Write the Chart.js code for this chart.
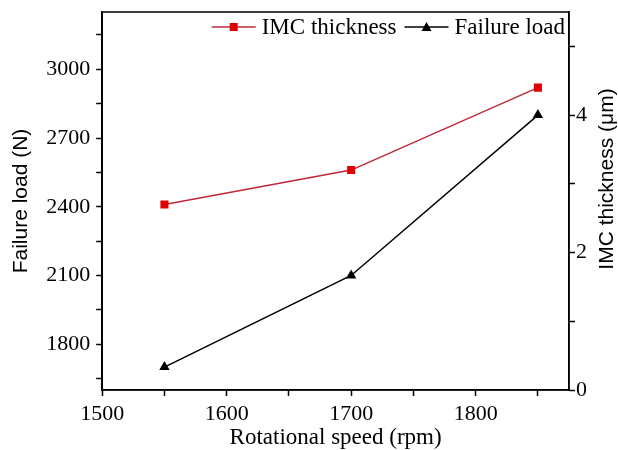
<!DOCTYPE html>
<html>
<head>
<meta charset="utf-8">
<script src="https://cdn.jsdelivr.net/npm/chart.js@4.4.0/dist/chart.umd.min.js"></script>
<style>
  html, body { margin: 0; padding: 0; background: #fff; }
  #wrap { width: 618px; height: 450px; }
</style>
</head>
<body>
<div id="wrap"><canvas id="chart"></canvas></div>
<script>
// values
const speeds = [1550, 1700, 1850];
const imcThickness = [2.7, 3.2, 4.4];
const failureLoad = [1700, 2100, 2800];

const SERIF = 'Liberation Serif';
const SANS = 'Liberation Sans';
const RED = '#e00000';
const RED_LINE = '#c0283a';

function drawMarker(g, shape, cx, cy, color) {
    g.fillStyle = color;
    if (shape === 'rect') {
        g.fillRect(cx - 4, cy - 4, 8, 8);
    } else {
        g.beginPath(); g.moveTo(cx, cy - 5); g.lineTo(cx + 5, cy + 4); g.lineTo(cx - 5, cy + 4); g.closePath(); g.fill();
    }
}

// legend drawn inside the plot, top right: —■— IMC thickness —▲— Failure load
const legendPlugin = {
    id: 'insideLegend',
    afterDraw(chart) {
        const g = chart.ctx, a = chart.chartArea;
        const items = chart.data.datasets;
        g.save();
        g.font = '23px "' + SERIF + '"';
        g.textBaseline = 'middle';
        const iconW = 44, gapIcon = 6, gapItem = 8;
        let total = 0;
        items.forEach((d, i) => {
            total += iconW + gapIcon + g.measureText(d.label).width + (i < items.length - 1 ? gapItem : 0);
        });
        let x = a.right - 4 - total;
        const y = a.top + 15;
        items.forEach(d => {
            g.strokeStyle = d.borderColor;
            g.lineWidth = 1.5;
            g.beginPath(); g.moveTo(x, y); g.lineTo(x + iconW, y); g.stroke();
            drawMarker(g, d.pointStyle, x + iconW / 2, y, d.pointBackgroundColor);
            x += iconW + gapIcon;
            g.fillStyle = '#000';
            g.fillText(d.label, x, y + 1);
            x += g.measureText(d.label).width + gapItem;
        });
        g.restore();
    }
};

// frame round the plot and the right title read bottom-to-top
const framePlugin = {
    id: 'frame',
    afterDraw(chart) {
        const a = chart.chartArea, g = chart.ctx;
        g.save();
        g.strokeStyle = '#000';
        g.lineWidth = 1.5;
        g.strokeRect(a.left, a.top, a.right - a.left, a.bottom - a.top);
        const s = chart.scales.y1;
        g.translate(s.right - 11, (a.top + a.bottom) / 2 - 22);
        g.rotate(-Math.PI / 2);
        g.font = '21px "' + SANS + '"';
        g.textAlign = 'center';
        g.textBaseline = 'middle';
        g.fillStyle = '#000';
        g.fillText(s.options.title.text, 0, 0);
        g.restore();
    }
};

// major + minor ticks at every multiple of step inside the axis range
function stepTicks(step) {
    return function(scale) {
        const out = [];
        const first = Math.ceil(scale.min / step - 1e-9);
        for (let k = first; k * step <= scale.max + 1e-9; k++) {
            out.push({ value: +(k * step).toFixed(6) });
        }
        scale.ticks = out;
    };
}

// let the plot run up to the outer padding (no room kept for end labels)
function noEndPadding(scale) {
    scale.paddingTop = 0;
    scale.paddingBottom = 0;
}

const axisGrid = {
    display: true,
    drawOnChartArea: false,
    drawTicks: true,
    tickLength: 6,
    tickColor: '#000',
    tickWidth: 1.5
};
const axisBorder = { display: true, color: '#000', width: 1.5 };
const tickFont = { family: SERIF, size: 22 };

const ctx = document.getElementById('chart').getContext('2d');
new Chart(ctx, {
    type: 'line',
    data: {
        datasets: [
            {
                label: 'IMC thickness',
                data: speeds.map((s, i) => ({ x: s, y: imcThickness[i] })),
                yAxisID: 'y1',
                borderColor: RED_LINE,
                borderWidth: 1.5,
                backgroundColor: RED,
                pointStyle: 'rect',
                pointRadius: 5.7,
                pointBorderWidth: 0,
                pointBackgroundColor: RED,
                fill: false
            },
            {
                label: 'Failure load',
                data: speeds.map((s, i) => ({ x: s, y: failureLoad[i] })),
                yAxisID: 'y',
                borderColor: '#000',
                borderWidth: 1.5,
                backgroundColor: '#000',
                pointStyle: 'triangle',
                pointRadius: 6,
                pointBorderWidth: 0,
                pointBackgroundColor: '#000',
                fill: false
            }
        ]
    },
    options: {
        responsive: true,
        maintainAspectRatio: false,
        animation: false,
        layout: { padding: { top: 12, right: 0, left: 9, bottom: 0 } },
        plugins: {
            tooltip: { enabled: false },
            legend: { display: false }
        },
        scales: {
            x: {
                type: 'linear',
                min: 1500,
                max: 1875,
                afterBuildTicks: stepTicks(50),
                ticks: {
                    maxRotation: 0,
                    autoSkip: false,
                    color: '#000',
                    padding: 5,
                    font: tickFont,
                    callback: v => (v % 100 === 0 ? v : '')
                },
                grid: axisGrid,
                border: axisBorder,
                title: {
                    display: true,
                    text: 'Rotational speed (rpm)',
                    color: '#000',
                    padding: { top: -8, bottom: -2 },
                    font: { family: SERIF, size: 23 }
                }
            },
            y: {
                position: 'left',
                min: 1600,
                max: 3250,
                afterBuildTicks: stepTicks(150),
                afterFit: noEndPadding,
                ticks: {
                    autoSkip: false,
                    color: '#000',
                    padding: 6,
                    font: tickFont,
                    callback: v => (v % 300 === 0 ? v : '')
                },
                grid: axisGrid,
                border: axisBorder,
                title: {
                    display: true,
                    text: 'Failure load (N)',
                    color: '#000',
                    padding: { top: 0, bottom: 6 },
                    font: { family: SANS, size: 21 }
                }
            },
            y1: {
                position: 'right',
                min: 0,
                max: 5.5,
                afterBuildTicks: stepTicks(1),
                afterFit: noEndPadding,
                ticks: {
                    autoSkip: false,
                    color: '#000',
                    padding: 1,
                    font: tickFont,
                    callback: v => (v % 2 === 0 ? v : '')
                },
                grid: axisGrid,
                border: axisBorder,
                title: {
                    display: true,
                    text: 'IMC thickness (μm)',
                    color: 'rgba(0,0,0,0)',
                    padding: { top: 0, bottom: 9 },
                    font: { family: SANS, size: 21, lineHeight: 1 }
                }
            }
        }
    },
    plugins: [framePlugin, legendPlugin]
});
</script>
</body>
</html>
